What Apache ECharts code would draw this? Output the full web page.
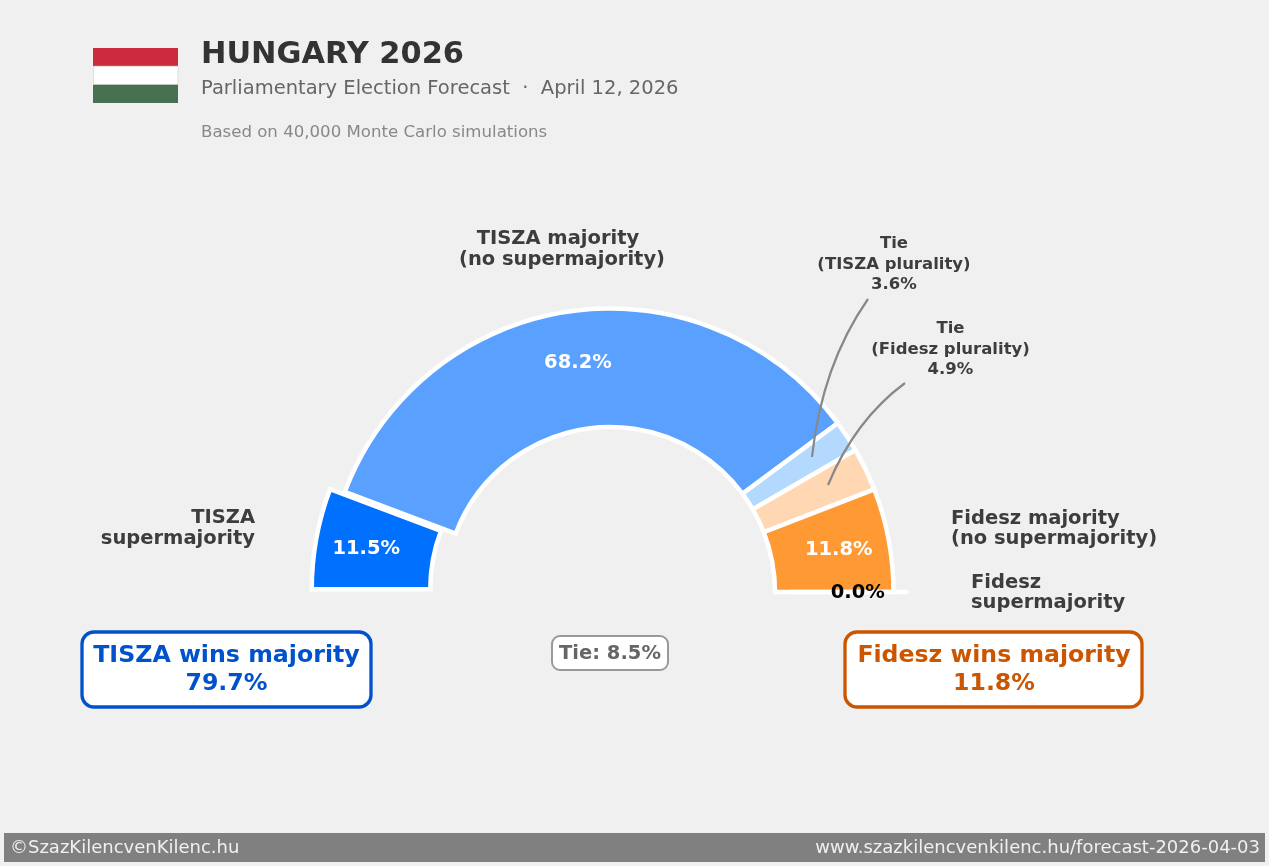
<!DOCTYPE html>
<html>
<head>
<meta charset="utf-8">
<style>
  html, body { margin: 0; padding: 0; background: #f0f0f0; }
  #chart { width: 1269px; height: 866px; }
</style>
<script src="https://cdn.jsdelivr.net/npm/echarts@6/dist/echarts.min.js"></script>
</head>
<body>
<div id="chart"></div>
<script>
const sliceNames = [
    'TISZA supermajority',
    'TISZA majority (no supermajority)',
    'Tie (TISZA plurality)',
    'Tie (Fidesz plurality)',
    'Fidesz majority (no supermajority)',
    'Fidesz supermajority'
]
const sliceValues = [11.5, 68.2, 3.6, 4.9, 11.8, 0.0]
const sliceColors = ['#0070ff', '#5aa0ff', '#b3d9ff', '#ffd8b3', '#ff9933', '#cc5500']
const explodedSlices = [0, 5]
const hiddenPctSlices = [2, 3]

const tiszaTotal = 79.7
const fideszTotal = 11.8
const tieTotal = 8.5

const FONT = '"DejaVu Sans"'
const DARK = '#3d3d3d'
const centerX = 610
const centerY = 592

function txt(x, y, text, size, color, align, weight) {
    return {
        type: 'text',
        x: x,
        y: y,
        silent: true,
        z: 10,
        style: {
            text: text,
            fontFamily: FONT,
            fontSize: size,
            fontWeight: weight || 'normal',
            fill: color,
            align: align || 'left',
            verticalAlign: 'middle',
            lineHeight: size >= 20 ? 28 : 20.5
        }
    }
}

function box(x, y, w, h, r, stroke, lw) {
    return {
        type: 'rect',
        shape: { x: x, y: y, width: w, height: h, r: r },
        silent: true,
        z: 5,
        style: { fill: '#fff', stroke: stroke, lineWidth: lw }
    }
}

function leader(x1, y1, cx, cy, x2, y2) {
    return {
        type: 'bezierCurve',
        shape: { x1: x1, y1: y1, cpx1: cx, cpy1: cy, x2: x2, y2: y2 },
        silent: true,
        z: 8,
        style: { fill: 'none', stroke: '#888', lineWidth: 2.2 }
    }
}

function getGraphics() {
    return [
        // flag
        { type: 'rect', shape: { x: 93, y: 48, width: 85, height: 18.3 }, silent: true, style: { fill: '#cd2a3e' } },
        { type: 'rect', shape: { x: 93.5, y: 66.3, width: 84.5, height: 18.4 }, silent: true, style: { fill: '#fff', stroke: '#ddd', lineWidth: 1 } },
        { type: 'rect', shape: { x: 93, y: 84.7, width: 85, height: 18.3 }, silent: true, style: { fill: '#477050' } },

        txt(201, 55.5, 'HUNGARY 2026', 30.4, '#333', 'left', 'bold'),
        txt(201, 88.5, 'Parliamentary Election Forecast  ·  April 12, 2026', 19.5, '#666'),
        txt(201, 132.5, 'Based on 40,000 Monte Carlo simulations', 16.6, '#888'),

        // slice names, first line of this one sits a little left of the second
        txt(558, 239.25, 'TISZA majority', 19.5, DARK, 'center', 'bold'),
        txt(562, 259.75, '(no supermajority)', 19.5, DARK, 'center', 'bold'),
        txt(255, 528.5, 'TISZA\nsupermajority', 19.5, DARK, 'right', 'bold'),
        txt(951, 529, 'Fidesz majority\n(no supermajority)', 19.5, DARK, 'left', 'bold'),
        txt(971, 593, 'Fidesz\nsupermajority', 19.5, DARK, 'left', 'bold'),
        txt(894, 264.5, 'Tie\n(TISZA plurality)\n' + sliceValues[2].toFixed(1) + '%', 16.5, DARK, 'center', 'bold'),
        txt(950.5, 349.5, 'Tie\n(Fidesz plurality)\n' + sliceValues[3].toFixed(1) + '%', 16.5, DARK, 'center', 'bold'),

        leader(868, 299, 822, 365, 812, 457),
        leader(905, 383, 855, 420, 828, 485),

        // totals
        box(82, 632, 289, 75, 12, '#0052cc', 3.3),
        txt(226.5, 670, 'TISZA wins majority\n' + tiszaTotal.toFixed(1) + '%', 23.7, '#0052cc', 'center', 'bold'),
        box(552, 636, 116, 34, 8, '#999', 2),
        txt(610, 653.5, 'Tie: ' + tieTotal.toFixed(1) + '%', 19.5, '#666', 'center', 'bold'),
        box(845, 632, 297, 75, 12, '#cc5500', 3.3),
        txt(994, 670, 'Fidesz wins majority\n' + fideszTotal.toFixed(1) + '%', 23.6, '#cc5500', 'center', 'bold'),

        // footer
        { type: 'rect', shape: { x: 4, y: 833, width: 1261, height: 29 }, silent: true, style: { fill: '#808080' } },
        txt(10, 848.5, '©SzazKilencvenKilenc.hu', 18, '#f0f0f0'),
        txt(1260, 848.5, 'www.szazkilencvenkilenc.hu/forecast-2026-04-03', 18, '#f0f0f0', 'right')
    ]
}

function getDatas() {
    const datas = []
    for (let i = 0; i < sliceValues.length; i++) {
        datas.push({
            name: sliceNames[i],
            value: sliceValues[i],
            selected: explodedSlices.includes(i),
            itemStyle: { color: sliceColors[i] },
            label: {
                show: !hiddenPctSlices.includes(i),
                color: i === 5 ? '#000' : '#fff'
            }
        })
    }
    return datas
}

function getOptions() {
    return {
        backgroundColor: '#f0f0f0',
        animation: false,
        graphic: getGraphics(),
        series: [
            {
                type: 'pie',
                center: [centerX, centerY],
                radius: [165, 283.5],
                startAngle: 180,
                endAngle: 360,
                clockwise: true,
                sort: null,
                selectedMode: 'multiple',
                selectedOffset: 15,
                stillShowZeroSum: true,
                minShowLabelAngle: 0,
                avoidLabelOverlap: false,
                silent: true,
                itemStyle: {
                    borderColor: '#fff',
                    borderWidth: 4.5,
                    borderJoin: 'miter'
                },
                label: {
                    position: 'inside',
                    fontFamily: FONT,
                    fontSize: 19.5,
                    fontWeight: 'bold',
                    formatter: function (params) {
                        return params.value.toFixed(1) + '%'
                    }
                },
                labelLine: { show: false },
                // matplotlib style pctdistance, a bit further out than the ring middle
                labelLayout: function (params) {
                    const r = params.labelRect
                    const lx = r.x + r.width / 2 - centerX
                    const ly = r.y + r.height / 2 - centerY
                    const len = Math.sqrt(lx * lx + ly * ly)
                    return { dx: lx / len * 5.5, dy: ly / len * 5.5 + 1 }
                },
                data: getDatas()
            }
        ]
    }
}

const chart = echarts.init(document.getElementById('chart'))
chart.setOption(getOptions())
</script>
</body>
</html>
